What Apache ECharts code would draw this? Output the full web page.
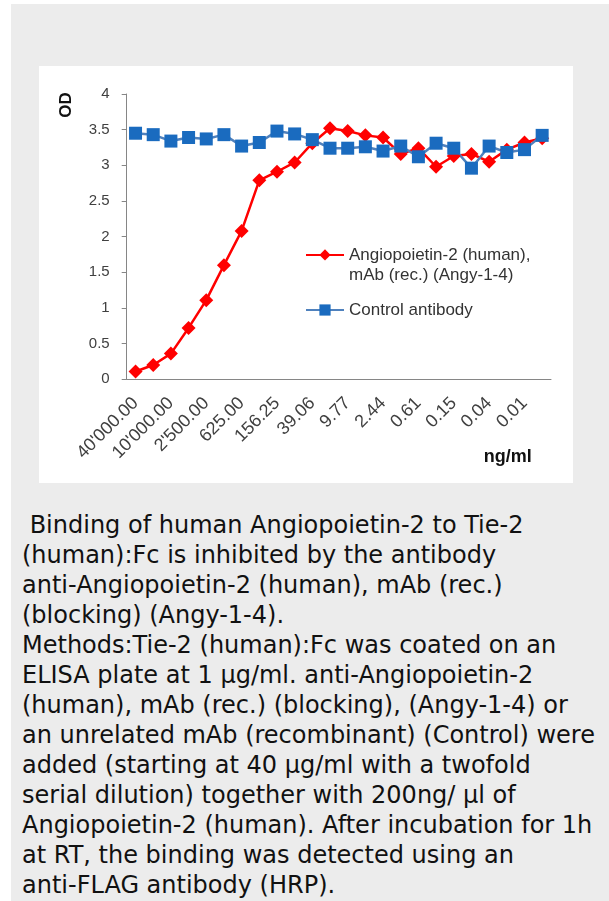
<!DOCTYPE html>
<html>
<head>
<meta charset="utf-8">
<script src="https://cdn.jsdelivr.net/npm/echarts@6/dist/echarts.min.js"></script>
<style>
html, body { margin: 0; padding: 0; background: #fff; width: 609px; height: 901px; overflow: hidden; }
#panel { position: absolute; left: 11px; top: 4px; right: 0; bottom: 0; background: #ececec; }
#main { position: absolute; left: 39px; top: 66px; width: 534px; height: 417px; background: #fff; }
#caption { position: absolute; left: 22px; top: 510px; font-family: 'DejaVu Sans'; font-size: 24px; line-height: 30px; color: #111; white-space: nowrap; }
</style>
</head>
<body>
<div id="panel"></div>
<div id="main"></div>
<div id="caption">&nbsp;Binding of human Angiopoietin-2 to Tie-2<br>(human):Fc is inhibited by the antibody<br>anti-Angiopoietin-2 (human), mAb (rec.)<br>(blocking) (Angy-1-4).<br>Methods:Tie-2 (human):Fc was coated on an<br>ELISA plate at 1 µg/ml. anti-Angiopoietin-2<br>(human), mAb (rec.) (blocking), (Angy-1-4) or<br>an unrelated mAb (recombinant) (Control) were<br>added (starting at 40 µg/ml with a twofold<br>serial dilution) together with 200ng/ µl of<br>Angiopoietin-2 (human). After incubation for 1h<br>at RT, the binding was detected using an<br>anti-FLAG antibody (HRP).</div>
<script>
// dilution series, ng/ml
var concentrations = ["40'000.00", "20'000.00", "10'000.00", "5'000.00", "2'500.00", "1'250.00", "625.00", "312.50",
    "156.25", "78.13", "39.06", "19.53", "9.77", "4.88", "2.44", "1.22", "0.61", "0.31", "0.15", "0.08", "0.04",
    "0.02", "0.01", "0.00"];
var angyName = 'Angiopoietin-2 (human),\nmAb (rec.) (Angy-1-4)';
var controlName = 'Control antibody';
var angyOD = [0.11, 0.20, 0.36, 0.72, 1.11, 1.60, 2.08, 2.79, 2.91, 3.04, 3.31, 3.52, 3.48, 3.42, 3.39, 3.16,
    3.24, 2.98, 3.13, 3.16, 3.05, 3.22, 3.32, 3.38];
var controlOD = [3.45, 3.43, 3.34, 3.39, 3.37, 3.43, 3.27, 3.32, 3.48, 3.44, 3.36, 3.24, 3.24, 3.26, 3.20, 3.27,
    3.12, 3.31, 3.24, 2.96, 3.27, 3.18, 3.22, 3.42];

var font = 'Liberation Sans';
var myChart = echarts.init(document.getElementById('main'));
var option = {
    animation: false,
    grid: { left: 87.7, top: 28, width: 424.3, height: 285.3 },
    legend: [{
        data: [angyName],
        orient: 'vertical',
        left: 266,
        top: 158,
        padding: 0,
        itemWidth: 38,
        itemHeight: 14,
        // empty first line so the icon sits beside the first text line
        formatter: function (name) { return ' \n' + name; },
        textStyle: { fontFamily: font, fontSize: 17, lineHeight: 20.6, color: '#333' }
    }, {
        data: [controlName],
        orient: 'vertical',
        left: 266,
        top: 233.7,
        padding: 0,
        itemWidth: 38,
        itemHeight: 14,
        textStyle: { fontFamily: font, fontSize: 17, lineHeight: 20.6, color: '#333' }
    }],
    xAxis: {
        type: 'category',
        data: concentrations,
        boundaryGap: true,
        axisLine: { lineStyle: { color: '#868686', width: 1 } },
        axisTick: { interval: 0, length: 6, lineStyle: { color: '#868686' } },
        axisLabel: { interval: 1, rotate: 45, margin: 21, fontSize: 18, fontFamily: font, color: '#404040' }
    },
    yAxis: {
        type: 'value',
        min: 0,
        max: 4,
        interval: 0.5,
        splitLine: { show: false },
        axisLine: { show: true, lineStyle: { color: '#868686', width: 1 } },
        axisTick: { show: true, length: 5, lineStyle: { color: '#868686' } },
        axisLabel: { margin: 17, fontSize: 15, fontFamily: font, color: '#404040' }
    },
    graphic: [{
        type: 'text',
        x: 27.7,
        y: 39,
        rotation: Math.PI / 2,
        style: { text: 'OD', font: 'bold 17px "Liberation Sans"', fill: '#111', align: 'center', verticalAlign: 'middle' }
    }, {
        type: 'text',
        x: 468.7,
        y: 390.7,
        style: { text: 'ng/ml', font: 'bold 18px "Liberation Sans"', fill: '#111', align: 'center', verticalAlign: 'middle' }
    }],
    series: [{
        name: angyName,
        type: 'line',
        data: angyOD,
        showAllSymbol: true,
        symbol: 'diamond',
        symbolSize: 14,
        itemStyle: { color: '#ff0000' },
        lineStyle: { color: '#ff0000', width: 2.5 }
    }, {
        name: controlName,
        type: 'line',
        data: controlOD,
        showAllSymbol: true,
        symbol: 'rect',
        symbolSize: 13,
        itemStyle: { color: '#1a6bbf' },
        lineStyle: { color: '#4f81bd', width: 2.5 }
    }]
};
myChart.setOption(option);
</script>
</body>
</html>
